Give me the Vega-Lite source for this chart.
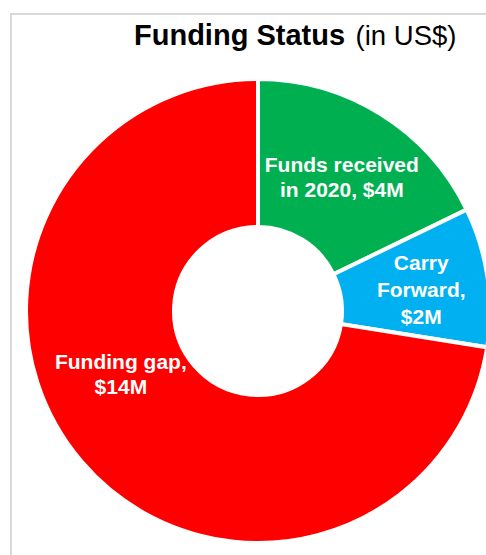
{
  "$schema": "https://vega.github.io/schema/vega-lite/v6.json",
  "width": 494,
  "height": 594,
  "autosize": {"type": "none"},
  "padding": {"left": 11, "top": 14, "right": -19, "bottom": -53},
  "background": "white",
  "view": {"stroke": "#d9d9d9", "strokeWidth": 2},
  "title": {
    "text": "Funding Status",
    "subtitle": "\u200b\u00a0\u00a0\u00a0\u00a0\u00a0\u00a0\u00a0\u00a0\u00a0\u00a0\u00a0\u00a0\u00a0\u00a0\u00a0\u00a0\u00a0\u00a0\u00a0\u00a0\u00a0\u00a0\u00a0\u00a0\u00a0\u00a0\u00a0\u00a0\u00a0(in US$)",
    "anchor": "start",
    "frame": "group",
    "orient": "top",
    "offset": -37,
    "dx": 123,
    "font": "Liberation Sans",
    "fontSize": 29,
    "fontWeight": "bold",
    "color": "black",
    "subtitleFont": "Liberation Sans",
    "subtitleFontSize": 27.5,
    "subtitleFontWeight": "normal",
    "subtitleColor": "black",
    "subtitlePadding": -28
  },
  "data": {
    "values": [
      {"category": "Funds received in 2020", "value": 3.56, "order": 1, "label": ["Funds received", "in 2020, $4M"]},
      {"category": "Carry Forward", "value": 1.94, "order": 2, "label": ["Carry", "Forward,", "$2M"]},
      {"category": "Funding gap", "value": 14.5, "order": 3, "label": ["Funding gap,", "$14M"]}
    ]
  },
  "encoding": {
    "theta": {"field": "value", "type": "quantitative", "stack": true},
    "order": {"field": "order", "type": "quantitative"},
    "detail": {"field": "category", "type": "nominal"}
  },
  "layer": [
    {
      "mark": {"type": "arc", "outerRadius": 232, "innerRadius": 84, "stroke": "white", "strokeWidth": 4},
      "encoding": {
        "color": {
          "field": "category",
          "type": "nominal",
          "scale": {"domain": ["Funds received in 2020", "Carry Forward", "Funding gap"], "range": ["#00B050", "#00B0F0", "#FF0000"]},
          "legend": null
        }
      }
    },
    {
      "mark": {"type": "text", "radius": 158, "dy": -11, "font": "Liberation Sans", "fontSize": 21, "fontWeight": "bold", "fill": "white", "lineHeight": 25, "align": "center", "baseline": "middle"},
      "encoding": {
        "text": {"field": "label"},
        "opacity": {"condition": {"test": "datum.category === 'Funds received in 2020'", "value": 1}, "value": 0}
      }
    },
    {
      "mark": {"type": "text", "radius": 158, "dx": 7, "dy": -24, "font": "Liberation Sans", "fontSize": 21, "fontWeight": "bold", "fill": "white", "lineHeight": 27, "align": "center", "baseline": "middle"},
      "encoding": {
        "text": {"field": "label"},
        "opacity": {"condition": {"test": "datum.category === 'Carry Forward'", "value": 1}, "value": 0}
      }
    },
    {
      "mark": {"type": "text", "radius": 158, "dx": -17, "dy": -51, "font": "Liberation Sans", "fontSize": 21, "fontWeight": "bold", "fill": "white", "lineHeight": 25, "align": "center", "baseline": "middle"},
      "encoding": {
        "text": {"field": "label"},
        "opacity": {"condition": {"test": "datum.category === 'Funding gap'", "value": 1}, "value": 0}
      }
    }
  ]
}
